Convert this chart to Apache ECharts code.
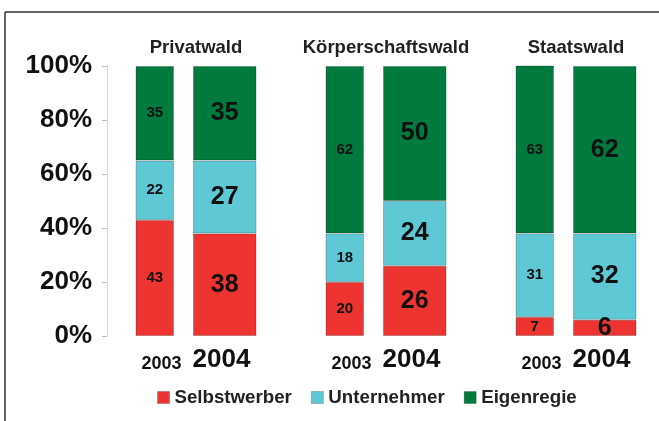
<!DOCTYPE html>
<html>
<head>
<meta charset="utf-8">
<script src="https://cdn.jsdelivr.net/npm/echarts@6/dist/echarts.min.js"></script>
<style>
html,body{margin:0;padding:0;background:#fff;}
#c{width:659px;height:421px;}
</style>
</head>
<body>
<div id="c"></div>
<script>
const groups = ['Privatwald', 'Körperschaftswald', 'Staatswald'];
const years = ['2003', '2004'];
const segments = ['Selbstwerber', 'Unternehmer', 'Eigenregie'];
const yTicks = [0, 20, 40, 60, 80, 100];

// values per segment, per group
const selbst2003 = [43, 20, 7];
const selbst2004 = [38, 26, 6];
const untern2003 = [22, 18, 31];
const untern2004 = [27, 24, 32];
const eigen2003 = [35, 62, 63];
const eigen2004 = [35, 50, 62];

const colors = ['#EE3430', '#5FC8D5', '#007B3D'];
const FONT = 'Liberation Sans, Arial, sans-serif';

const data2003 = [selbst2003, untern2003, eigen2003];
const data2004 = [selbst2004, untern2004, eigen2004];

const series = [];
[['2003', data2003, 38.5, 15], ['2004', data2004, 63.5, 25]].forEach(function (y) {
  y[1].forEach(function (vals, i) {
    series.push({
      name: segments[i],
      type: 'bar',
      stack: y[0],
      barWidth: y[2],
      barGap: '49.4%',
      data: vals,
      itemStyle: { color: colors[i], borderColor: 'rgba(0,0,0,0.22)', borderWidth: 1 },
      label: {
        show: true,
        position: 'inside',
        color: '#111',
        fontFamily: FONT,
        fontWeight: 'bold',
        fontSize: y[3]
      },
      emphasis: { disabled: true }
    });
  });
});

const chart = echarts.init(document.getElementById('c'), null, { renderer: 'canvas' });
chart.setOption({
  animation: false,
  backgroundColor: '#fff',
  color: colors,
  grid: { left: 101, top: 66, height: 270, width: 570, outerBoundsMode: 'none', containLabel: false },
  legend: {
    data: segments,
    left: 152,
    top: 383,
    itemWidth: 12,
    itemHeight: 12,
    itemGap: 19,
    icon: 'rect',
    itemStyle: { borderColor: 'rgba(0,0,0,0.2)', borderWidth: 1 },
    textStyle: { fontFamily: FONT, fontWeight: 'bold', fontSize: 18.7, color: '#222' }
  },
  xAxis: [
    {
      type: 'category',
      data: groups,
      position: 'bottom',
      axisLine: { show: false },
      axisTick: { show: false },
      axisLabel: {
        interval: 0,
        hideOverlap: false,
        margin: 9,
        formatter: function () {
          return '{s|' + years[0] + '}{g| }{l|' + years[1] + '}';
        },
        rich: {
          s: { fontFamily: FONT, fontWeight: 'bold', fontSize: 18, color: '#111', verticalAlign: 'bottom', lineHeight: 28 },
          g: { width: 11, fontSize: 17, lineHeight: 28 },
          l: { fontFamily: FONT, fontWeight: 'bold', fontSize: 26, color: '#111', verticalAlign: 'bottom', lineHeight: 28 }
        }
      }
    },
    {
      type: 'category',
      data: groups,
      position: 'top',
      axisLine: { show: false },
      axisTick: { show: false },
      axisLabel: {
        interval: 0,
        hideOverlap: false,
        margin: 9,
        fontFamily: FONT,
        fontWeight: 'bold',
        fontSize: 18.5,
        color: '#222'
      }
    }
  ],
  yAxis: {
    type: 'value',
    min: yTicks[0],
    max: yTicks[yTicks.length - 1],
    interval: 20,
    offset: -6,
    axisLine: { show: true, lineStyle: { color: '#dcdcdc', width: 1 } },
    axisTick: { show: true, length: 5, lineStyle: { color: '#bbb' } },
    splitLine: { show: false },
    axisLabel: {
      margin: 15,
      formatter: '{value}%',
      fontFamily: FONT,
      fontWeight: 'bold',
      fontSize: 26,
      color: '#111'
    }
  },
  series: series,
  graphic: [
    { type: 'line', shape: { x1: 5, y1: 12, x2: 659, y2: 12 }, style: { stroke: '#333', lineWidth: 1.5 } },
    { type: 'line', shape: { x1: 5, y1: 12, x2: 5, y2: 421 }, style: { stroke: '#333', lineWidth: 1.5 } }
  ]
});
</script>
</body>
</html>
